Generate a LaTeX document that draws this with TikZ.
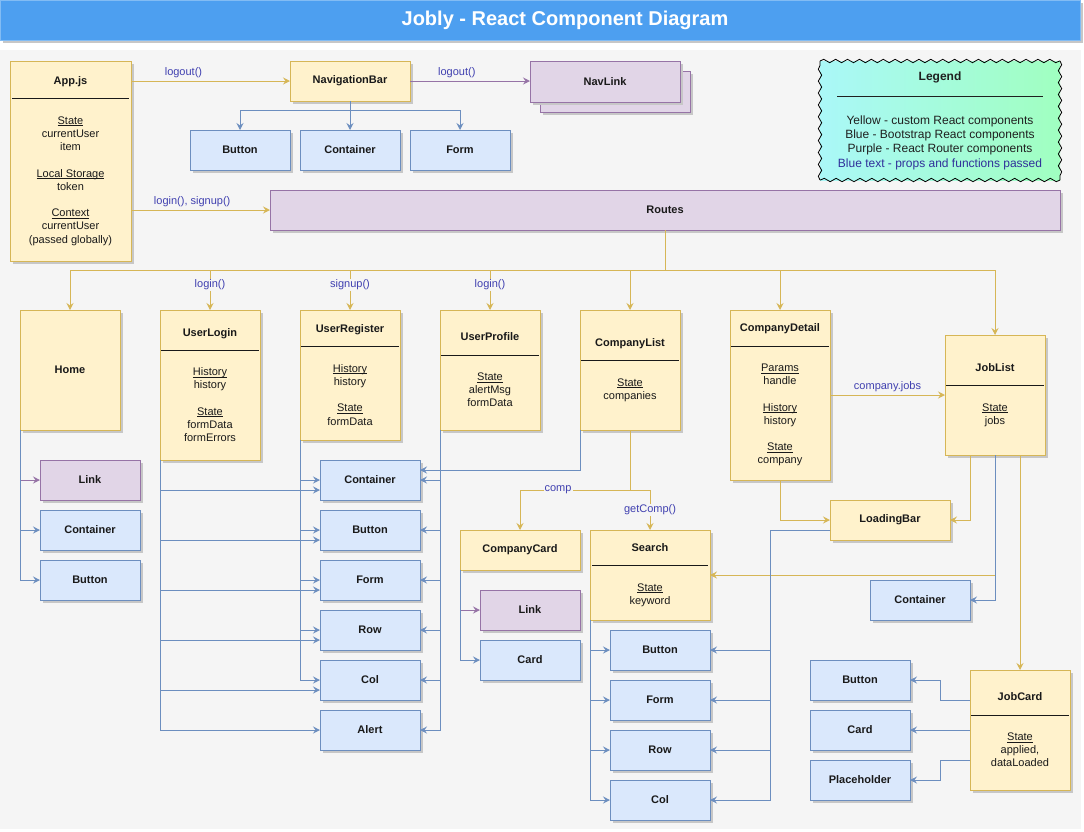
\documentclass[tikz,border=0pt]{standalone}
\usepackage{fontspec}
\setmainfont{Liberation Sans}
\usetikzlibrary{arrows.meta,shadows,calc,decorations.pathmorphing}
\definecolor{yfill}{HTML}{FFF2CC}
\definecolor{ystroke}{HTML}{D6B656}
\definecolor{bfill}{HTML}{DAE8FC}
\definecolor{bstroke}{HTML}{6C8EBF}
\definecolor{pfill}{HTML}{E1D5E7}
\definecolor{pstroke}{HTML}{9673A6}
\definecolor{bg}{HTML}{F5F5F5}
\definecolor{lblue}{HTML}{4040B0}
\definecolor{legblue}{HTML}{30309A}
\definecolor{titleblue}{HTML}{4D9FF0}
\definecolor{legL}{HTML}{AAF8F8}
\definecolor{legR}{HTML}{A0FFC0}
\newlength\ulw
\newcommand\undl[1]{\settowidth\ulw{#1}\rlap{\rule[-1.8pt]{\ulw}{0.7pt}}#1}
\newcommand\hrl[1]{\rule[-1.5pt]{#1pt}{1pt}}
\tikzset{
  f11/.style={font=\fontsize{11}{13.2}\selectfont},
  shd/.style={drop shadow={shadow xshift=3pt,shadow yshift=-3pt,fill=black!22,opacity=1}},
  box/.style={rectangle, line width=1pt, inner sep=0pt, outer sep=0pt, align=center, f11, shd, text=black!90},
  ybox/.style={box, fill=yfill, draw=ystroke},
  ytbox/.style={ybox, font=\fontsize{11}{13.2}\selectfont\bfseries},
  bbox/.style={box, fill=bfill, draw=bstroke, font=\fontsize{11}{13.2}\selectfont\bfseries},
  pbox/.style={box, fill=pfill, draw=pstroke, font=\fontsize{11}{13.2}\selectfont\bfseries},
  sz/.style 2 args={minimum width=#1pt, minimum height=#2pt},
  tip/.style={-{Stealth[length=7pt,width=7pt,inset=2.5pt]}},
  yarr/.style={draw=ystroke, line width=1pt, tip},
  barr/.style={draw=bstroke, line width=1pt, tip},
  parr/.style={draw=pstroke, line width=1pt, tip},
  lbl/.style={f11, text=lblue, fill=bg, inner sep=1pt},
  albl/.style={f11, text=lblue, inner sep=1pt, above=2pt},
  wavy/.style={draw=black, line width=0.8pt, decorate, decoration={snake, segment length=11.9pt, amplitude=1.7pt}},
}
\begin{document}
\begin{tikzpicture}[x=1pt,y=-1pt]
\useasboundingbox (0,0) rectangle (1084,831);
\fill[white] (0,0) rectangle (1084,831);
\fill[bg] (0,50) rectangle (1081,829);
\node[fill=titleblue, draw=titleblue!70!white, line width=1pt, minimum width=1080pt, minimum height=40pt, inner sep=0pt, shd] (title) at (540,20) {};
\node[text=white, font=\fontsize{20}{24}\selectfont\bfseries] (titletext) at (565,20) {Jobly - React Component Diagram};

% legend
\shade[left color=legL, right color=legR] (820,61) rectangle (1060,180);
\draw[wavy] (820,61) -- (1060,61);
\draw[wavy] (1060,61) -- (1060,180);
\draw[wavy] (1060,180) -- (820,180);
\draw[wavy] (820,180) -- (820,61);
\node[align=center, font=\fontsize{12}{14.4}\selectfont, text=black!88] (legend) at (940,121) {\textbf{Legend}\\\hrl{206}\\ \mbox{}\\Yellow - custom React components\\Blue - Bootstrap React components\\Purple - React Router components\\\textcolor{legblue}{Blue text - props and functions passed}};

% top row
\node[ybox, sz={121}{200}] (app) at (70.5,161) {\textbf{App.js}\\\hrl{116}\\ \mbox{}\\\undl{State}\\currentUser\\item\\ \mbox{}\\\undl{Local Storage}\\token\\ \mbox{}\\\undl{Context}\\currentUser\\(passed globally)};
\node[ytbox, sz={120}{40}] (nav) at (350,81) {NavigationBar};
\node[pbox, sz={150}{41}] (navlinkback) at (615,91.5) {};
\node[pbox, sz={150}{41}] (navlink) at (605,81.5) {NavLink};
\node[bbox, sz={100}{40}] (nbtn) at (240,150) {Button};
\node[bbox, sz={100}{40}] (ncont) at (350,150) {Container};
\node[bbox, sz={100}{40}] (nform) at (460,150) {Form};
\node[pbox, sz={790}{40}] (routes) at (665,210) {Routes};

% route children
\node[ytbox, sz={100}{120}] (home) at (70,370) {Home};
\node[ybox, sz={100}{150}] (ulogin) at (210,385) {\textbf{UserLogin}\\\hrl{98}\\ \mbox{}\\\undl{History}\\history\\ \mbox{}\\\undl{State}\\formData\\formErrors};
\node[ybox, sz={100}{130}] (uregister) at (350,375) {\textbf{UserRegister}\\\hrl{98}\\ \mbox{}\\\undl{History}\\history\\ \mbox{}\\\undl{State}\\formData};
\node[ybox, sz={100}{120}] (uprofile) at (490,370) {\textbf{UserProfile}\\\hrl{98}\\ \mbox{}\\\undl{State}\\alertMsg\\formData};
\node[ybox, sz={100}{120}] (clist) at (630,370) {\textbf{CompanyList}\\\hrl{98}\\ \mbox{}\\\undl{State}\\companies};
\node[ybox, sz={100}{170}] (cdetail) at (780,395) {\textbf{CompanyDetail}\\\hrl{98}\\ \mbox{}\\\undl{Params}\\handle\\ \mbox{}\\\undl{History}\\history\\ \mbox{}\\\undl{State}\\company};
\node[ybox, sz={100}{120}] (jlist) at (995,395) {\textbf{JobList}\\\hrl{98}\\ \mbox{}\\\undl{State}\\jobs};

% home children
\node[pbox, sz={100}{40}] (hlink) at (90,480) {Link};
\node[bbox, sz={100}{40}] (hcont) at (90,530) {Container};
\node[bbox, sz={100}{40}] (hbtn) at (90,580) {Button};

% shared bootstrap column
\node[bbox, sz={100}{40}] (rcont) at (370,480) {Container};
\node[bbox, sz={100}{40}] (rbtn) at (370,530) {Button};
\node[bbox, sz={100}{40}] (rform) at (370,580) {Form};
\node[bbox, sz={100}{40}] (rrow) at (370,630) {Row};
\node[bbox, sz={100}{40}] (rcol) at (370,680) {Col};
\node[bbox, sz={100}{40}] (ralert) at (370,730) {Alert};

% company
\node[ytbox, sz={120}{40}] (ccard) at (520,550) {CompanyCard};
\node[ybox, sz={120}{90}] (search) at (650,575) {\textbf{Search}\\\hrl{116}\\ \mbox{}\\\undl{State}\\keyword};
\node[pbox, sz={100}{40}] (clink) at (530,610) {Link};
\node[bbox, sz={100}{40}] (ccardb) at (530,660) {Card};
\node[bbox, sz={100}{40}] (sbtn) at (660,650) {Button};
\node[bbox, sz={100}{40}] (sform) at (660,700) {Form};
\node[bbox, sz={100}{40}] (srow) at (660,750) {Row};
\node[bbox, sz={100}{40}] (scol) at (660,800) {Col};

% jobs
\node[ytbox, sz={120}{40}] (lbar) at (890,520) {LoadingBar};
\node[bbox, sz={100}{40}] (jcont) at (920,600) {Container};
\node[ybox, sz={100}{120}] (jobcard) at (1020,730) {\textbf{JobCard}\\\hrl{98}\\ \mbox{}\\\undl{State}\\applied,\\dataLoaded};
\node[bbox, sz={100}{40}] (jbtn) at (860,680) {Button};
\node[bbox, sz={100}{40}] (jcard) at (860,730) {Card};
\node[bbox, sz={100}{40}] (jplace) at (860,780) {Placeholder};

% ---- connectors ----
\draw[yarr] (app.east |- nav.west) -- node[pos=0.33, albl]{logout()} (nav.west);
\draw[parr] (nav.east) -- node[pos=0.39, albl]{logout()} (navlink.west |- nav.east);
\coordinate (navsplit) at (350,110);
\draw[barr] (nav.south) -- (navsplit) -| (nbtn.north);
\draw[barr] (nav.south) -- (ncont.north);
\draw[barr] (nav.south) -- (navsplit) -| (nform.north);
\draw[yarr] (app.east |- routes.west) -- node[pos=0.44, albl]{login(), signup()} (routes.west);

\coordinate (rsplit) at (665,270);
\draw[yarr] (routes.south) -- (rsplit) -| (home.north);
\draw[yarr] (routes.south) -- (rsplit) -| node[lbl, pos=0.6875]{login()} (ulogin.north);
\draw[yarr] (routes.south) -- (rsplit) -| node[lbl, pos=0.6875]{signup()} (uregister.north);
\draw[yarr] (routes.south) -- (rsplit) -| node[lbl, pos=0.6875]{login()} (uprofile.north);
\draw[yarr] (routes.south) -- (rsplit) -| (clist.north);
\draw[yarr] (routes.south) -- (rsplit) -| (cdetail.north);
\draw[yarr] (routes.south) -- (rsplit) -| (jlist.north);

\draw[parr] (home.south west) |- (hlink.west);
\draw[barr] (home.south west) |- (hcont.west);
\draw[barr] (home.south west) |- (hbtn.west);

\foreach \n in {rcont,rbtn,rform,rrow,rcol} \draw[barr] (ulogin.south west) |- ($(\n.west)+(0,10)$);
\draw[barr] (ulogin.south west) |- (ralert.west);
\foreach \n in {rcont,rbtn,rform,rrow,rcol} \draw[barr] (uregister.south west) |- (\n.west);
\foreach \n in {rcont,rbtn,rform,rrow,rcol,ralert} \draw[barr] (uprofile.south west) |- (\n.east);
\draw[barr] (clist.south west) |- ($(rcont.east)+(0,-10)$);

\coordinate (csplit) at (630,490);
\draw[yarr] (clist.south) -- (csplit) -| node[lbl, pos=0.327]{comp} (ccard.north);
\draw[yarr] (clist.south) -- (csplit) -| node[lbl, pos=0.75]{getComp()} (search.north);

\draw[parr] (ccard.south west) |- (clink.west);
\draw[barr] (ccard.south west) |- (ccardb.west);
\foreach \n in {sbtn,sform,srow,scol} \draw[barr] (search.south west) |- (\n.west);

\draw[yarr] (cdetail.east |- jlist.west) -- node[midway, albl]{company.jobs} (jlist.west);
\draw[yarr] (cdetail.south) |- (lbar.west);
\draw[yarr] ($(jlist.south)+(-25,0)$) |- (lbar.east);
\draw[yarr] (jlist.south) |- (search.east);
\draw[barr] (jlist.south) |- (jcont.east);
\draw[yarr] (jobcard.north |- jlist.south) -- (jobcard.north);

\coordinate (lsplit) at (770,530);
\foreach \n in {sbtn,sform,srow,scol} \draw[barr] ($(lbar.west)+(0,10)$) -- (lsplit) |- (\n.east);

\coordinate (jcb1) at (940,700);
\coordinate (jcb2) at (940,760);
\draw[barr] (jobcard.west |- jcb1) -- (jcb1) |- (jbtn.east);
\draw[barr] (jobcard.west) -- (jcard.east);
\draw[barr] (jobcard.west |- jcb2) -- (jcb2) |- (jplace.east);
\end{tikzpicture}
\end{document}
